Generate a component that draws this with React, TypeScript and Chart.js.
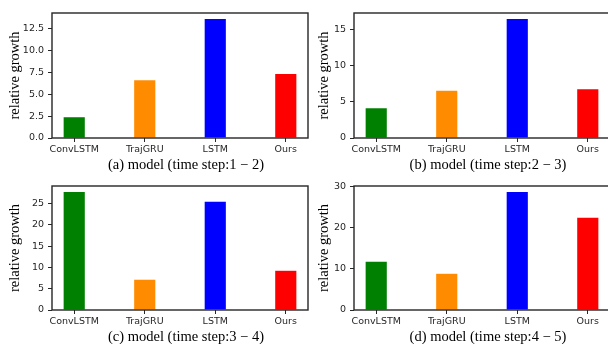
import { useEffect, useRef } from "react";
import { Chart, registerables } from "chart.js";

Chart.register(...registerables);

// ---- data ----
const categories = ["ConvLSTM", "TrajGRU", "LSTM", "Ours"];
const barColors = ["#008000", "#ff8c00", "#0000ff", "#ff0000"];
const valuesA = [2.38, 6.63, 13.64, 7.32];
const valuesB = [4.13, 6.55, 16.53, 6.78];
const valuesC = [27.7, 7.1, 25.4, 9.2];
const valuesD = [11.7, 8.8, 28.7, 22.4];
const seriesValues = [valuesA, valuesB, valuesC, valuesD];
const captions = [
  "(a) model (time step:1 \u2212 2)",
  "(b) model (time step:2 \u2212 3)",
  "(c) model (time step:3 \u2212 4)",
  "(d) model (time step:4 \u2212 5)",
];
const yTickSteps = [2.5, 5, 5, 10];
const yTickDecimals = [1, 0, 0, 0];
const yTitle = "relative growth";

// ---- layout / style ----
const CW = 310;
const CH = 172;
const AREA_W = 256;
const BAR_W = 0.3;
const INK = "#262626";
const SERIF = "Liberation Serif";
const SERIF_SIZE = 14.5;
const panels = [
  { left: 0, top: 0, areaLeft: 52, areaTop: 13, areaBottom: 138, titlePad: 7.5 },
  { left: 304, top: 0, areaLeft: 50, areaTop: 13, areaBottom: 138, titlePad: 13 },
  { left: 0, top: 172, areaLeft: 52, areaTop: 14, areaBottom: 138, titlePad: 7.5 },
  { left: 304, top: 172, areaLeft: 50, areaTop: 14, areaBottom: 138, titlePad: 13 },
];

const boxPlugin = {
  id: "boxFrame",
  afterDatasetsDraw(chart: any) {
    const { ctx, chartArea } = chart;
    const { left, top, right, bottom } = chartArea;
    ctx.save();
    ctx.strokeStyle = INK;
    ctx.lineWidth = 1.4;
    ctx.strokeRect(left, top, right - left, bottom - top);
    ctx.restore();
  },
};

const captionPlugin = {
  id: "caption",
  afterDraw(chart: any, _args: any, opts: any) {
    const { ctx, chartArea } = chart;
    ctx.save();
    ctx.font = `${SERIF_SIZE}px "${SERIF}"`;
    ctx.fillStyle = "#000";
    ctx.textAlign = "center";
    ctx.textBaseline = "alphabetic";
    ctx.fillText(
      opts.text,
      (chartArea.left + chartArea.right) / 2 + 6,
      chartArea.bottom + 30.5
    );
    ctx.restore();
  },
};

export default function App() {
  const r0 = useRef<HTMLCanvasElement>(null);
  const r1 = useRef<HTMLCanvasElement>(null);
  const r2 = useRef<HTMLCanvasElement>(null);
  const r3 = useRef<HTMLCanvasElement>(null);
  const refs = [r0, r1, r2, r3];

  useEffect(() => {
    const charts = panels.map((p, i) => {
      const canvas = refs[i].current as HTMLCanvasElement;
      const values = seriesValues[i];
      const maxV = Math.max(...values) * 1.05;
      const n = categories.length;
      const xMargin = 0.05 * (n - 1 + BAR_W);
      const tickFont = { family: "DejaVu Sans", size: 9.5 };
      const titleFont = { family: SERIF, size: SERIF_SIZE, lineHeight: 1 };
      const gridOpts = {
        display: true,
        drawOnChartArea: false,
        drawTicks: true,
        tickLength: 4,
        tickColor: INK,
        tickWidth: 1,
        offset: false,
      };
      return new Chart(canvas, {
        type: "bar",
        data: {
          datasets: [
            {
              data: values.map((v, j) => ({ x: j, y: v })),
              backgroundColor: barColors,
              borderWidth: 0,
              categoryPercentage: 1,
              barPercentage: BAR_W,
            } as any,
          ],
        },
        options: {
          animation: false,
          responsive: false,
          events: [],
          layout: {
            padding: {
              left: 0,
              top: p.areaTop,
              right: CW - p.areaLeft - AREA_W,
              bottom: 0,
            },
          },
          plugins: {
            legend: { display: false },
            tooltip: { enabled: false },
            caption: { text: captions[i] },
          },
          scales: {
            x: {
              type: "linear",
              offset: false,
              min: -BAR_W / 2 - xMargin,
              max: n - 1 + BAR_W / 2 + xMargin,
              afterFit: (s: any) => {
                s.height = CH - p.areaBottom;
              },
              afterBuildTicks: (s: any) => {
                s.ticks = categories.map((_, j) => ({ value: j }));
              },
              grid: gridOpts,
              border: { display: false },
              ticks: {
                callback: (v: any) => categories[v] ?? "",
                autoSkip: false,
                maxRotation: 0,
                padding: 2,
                color: INK,
                font: tickFont,
              },
            },
            y: {
              min: 0,
              max: maxV,
              afterFit: (s: any) => {
                s.width = p.areaLeft;
              },
              grid: gridOpts,
              border: { display: false },
              ticks: {
                stepSize: yTickSteps[i],
                includeBounds: false,
                callback: (v: any) => Number(v).toFixed(yTickDecimals[i]),
                padding: 4,
                color: INK,
                font: tickFont,
              },
              title: {
                display: true,
                text: yTitle,
                color: "#000",
                font: titleFont,
                padding: { top: p.titlePad, bottom: 0 },
              },
            },
          },
        } as any,
        plugins: [boxPlugin, captionPlugin],
      });
    });
    return () => charts.forEach((c) => c.destroy());
  }, []);

  return (
    <div
      style={{
        position: "fixed",
        left: 0,
        top: 0,
        width: 608,
        height: 344,
        overflow: "hidden",
        background: "#fff",
      }}
    >
      {panels.map((p, i) => (
        <canvas
          key={i}
          ref={refs[i]}
          width={CW}
          height={CH}
          style={{
            position: "absolute",
            left: p.left,
            top: p.top,
            width: CW,
            height: CH,
          }}
        />
      ))}
    </div>
  );
}
